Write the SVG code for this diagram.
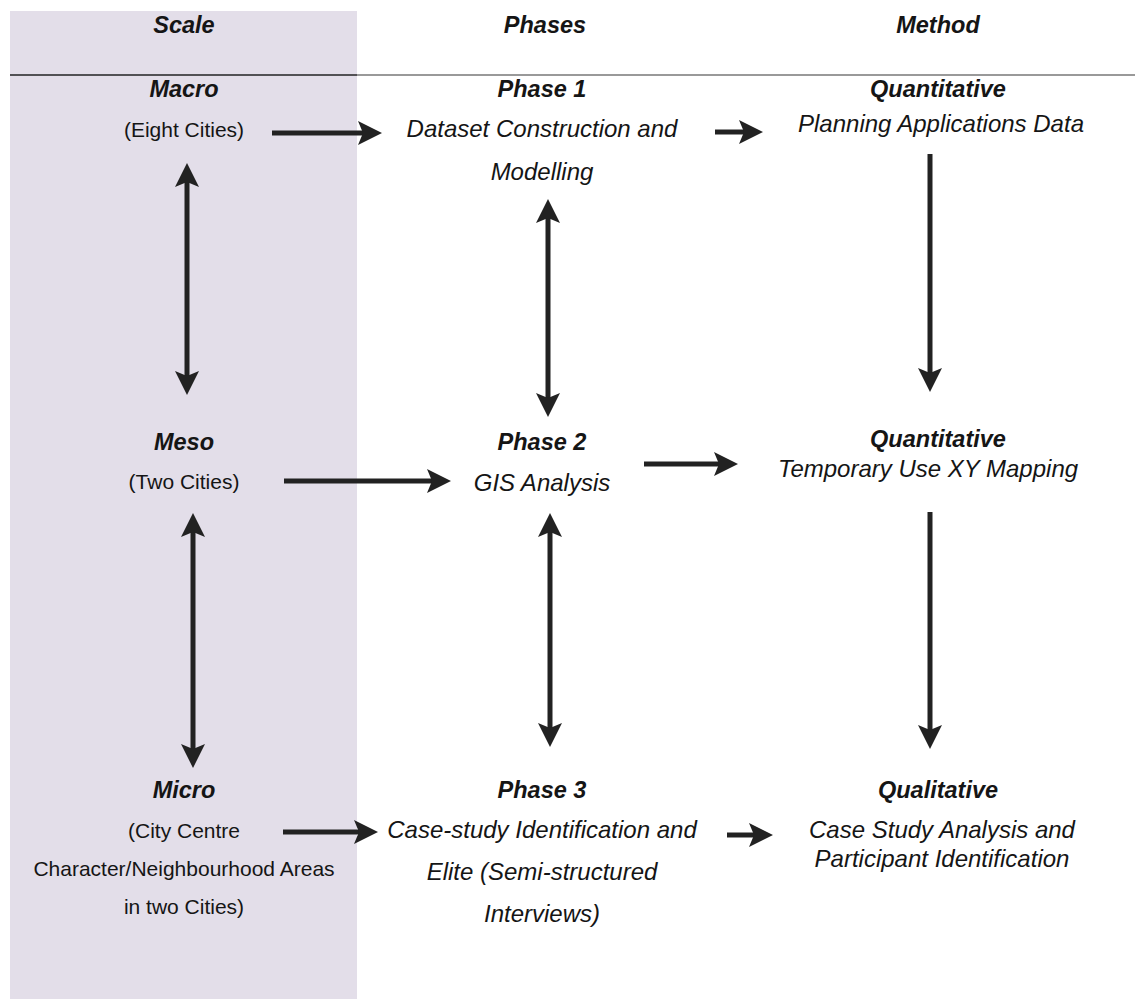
<svg xmlns="http://www.w3.org/2000/svg" width="1135" height="999" viewBox="0 0 1135 999">
<style>
text{font-family:"Liberation Sans",Arial,sans-serif;fill:#151515;text-anchor:middle}
.h{font-weight:bold;font-style:italic;font-size:23.5px}
.r{font-size:21px}
.i{font-style:italic;font-size:24px}
.c line{stroke:#222;stroke-width:5;fill:none}
</style>
<defs>
<marker id="ah" viewBox="0 0 24 24" refX="8" refY="12" markerWidth="24" markerHeight="24" markerUnits="userSpaceOnUse" orient="auto-start-reverse">
<path d="M0,0 L24,12 L0,24 L5,12 Z" fill="#222"/>
</marker>
</defs>
<rect x="10" y="11" width="347" height="988" fill="#e3dee9"/>
<line x1="10" y1="75" x2="357" y2="75" stroke="#222" stroke-width="1.5"/>
<line x1="357" y1="75" x2="1135" y2="75" stroke="#777" stroke-width="1.5"/>
<g id="headers">
<text class="h" x="184" y="33">Scale</text>
<text class="h" x="545" y="33">Phases</text>
<text class="h" x="938" y="33">Method</text>
</g>
<g id="macro">
<text class="h" x="184" y="97">Macro</text>
<text class="r" x="184" y="137">(Eight Cities)</text>
</g>
<g id="phase1">
<text class="h" x="542" y="97">Phase 1</text>
<text class="i" x="542" y="137">Dataset Construction and</text>
<text class="i" x="542" y="180">Modelling</text>
</g>
<g id="method1">
<text class="h" x="938" y="97">Quantitative</text>
<text class="i" x="941" y="132">Planning Applications Data</text>
</g>
<g id="meso">
<text class="h" x="184" y="450">Meso</text>
<text class="r" x="184" y="489">(Two Cities)</text>
</g>
<g id="phase2">
<text class="h" x="542" y="450">Phase 2</text>
<text class="i" x="542" y="491">GIS Analysis</text>
</g>
<g id="method2">
<text class="h" x="938" y="447">Quantitative</text>
<text class="i" x="928" y="477">Temporary Use XY Mapping</text>
</g>
<g id="micro">
<text class="h" x="184" y="798">Micro</text>
<text class="r" x="184" y="838">(City Centre</text>
<text class="r" x="184" y="876">Character/Neighbourhood Areas</text>
<text class="r" x="184" y="914">in two Cities)</text>
</g>
<g id="phase3">
<text class="h" x="542" y="798">Phase 3</text>
<text class="i" x="542" y="838">Case-study Identification and</text>
<text class="i" x="542" y="880">Elite (Semi-structured</text>
<text class="i" x="542" y="922">Interviews)</text>
</g>
<g id="method3">
<text class="h" x="938" y="798">Qualitative</text>
<text class="i" x="942" y="838">Case Study Analysis and</text>
<text class="i" x="942" y="867">Participant Identification</text>
</g>
<g id="connectors" class="c">
<line x1="272" y1="133" x2="366" y2="133" marker-end="url(#ah)"/>
<line x1="715" y1="132" x2="747" y2="132" marker-end="url(#ah)"/>
<line x1="187" y1="179" x2="187" y2="379" marker-start="url(#ah)" marker-end="url(#ah)"/>
<line x1="548" y1="215" x2="548" y2="401" marker-start="url(#ah)" marker-end="url(#ah)"/>
<line x1="930" y1="154" x2="930" y2="376" marker-end="url(#ah)"/>
<line x1="284" y1="481" x2="435" y2="481" marker-end="url(#ah)"/>
<line x1="644" y1="464" x2="722" y2="464" marker-end="url(#ah)"/>
<line x1="193" y1="529" x2="193" y2="752" marker-start="url(#ah)" marker-end="url(#ah)"/>
<line x1="550" y1="529" x2="550" y2="731" marker-start="url(#ah)" marker-end="url(#ah)"/>
<line x1="930" y1="512" x2="930" y2="733" marker-end="url(#ah)"/>
<line x1="283" y1="832" x2="362" y2="832" marker-end="url(#ah)"/>
<line x1="727" y1="835" x2="757" y2="835" marker-end="url(#ah)"/>
</g>
</svg>
